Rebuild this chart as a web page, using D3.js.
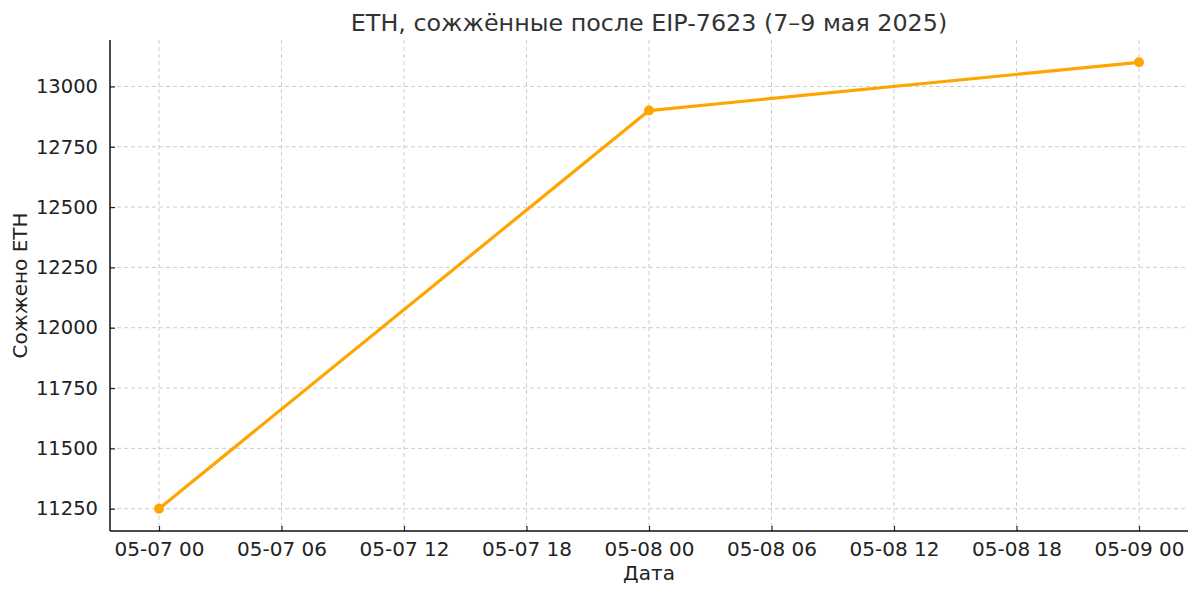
<!DOCTYPE html>
<html><head><meta charset="utf-8">
<script src="https://cdn.jsdelivr.net/npm/d3@7"></script>
<style>body{margin:0;background:#fff}svg{display:block}text{font-family:"DejaVu Sans",sans-serif}</style>
</head><body><svg id="c" width="1200" height="596"></svg>
<script>
const dates = ["2025-05-07T00:00", "2025-05-08T00:00", "2025-05-09T00:00"];
const burned = [11250, 12900, 13100];
const yTicks = [11250, 11500, 11750, 12000, 12250, 12500, 12750, 13000];
const xTickHours = [0, 6, 12, 18, 24, 30, 36, 42, 48];

const parse = d3.timeParse("%Y-%m-%dT%H:%M");
const data = dates.map((d, i) => ({t: parse(d), v: burned[i]}));
const svg = d3.select("#c");
const L = 110, R = 1188, T = 40, B = 531;
const t0 = data[0].t, t1 = data[data.length-1].t;
const span = t1 - t0;
const x = d3.scaleTime().domain([new Date(+t0 - span*0.05), new Date(+t1 + span*0.05)]).range([L, R]);
const vr = 13100 - 11250;
const y = d3.scaleLinear().domain([11250 - vr*0.05, 13100 + vr*0.05]).range([B, T]);
const xTicks = xTickHours.map(h => d3.timeHour.offset(t0, h));
const fmt = d3.timeFormat("%m-%d %H");

// grid
const g = svg.append("g");
g.selectAll(".gx").data(xTicks).join("line")
  .attr("x1", d => x(d)).attr("x2", d => x(d)).attr("y1", T).attr("y2", B)
  .attr("stroke", "#cccccc").attr("stroke-width", 1).attr("stroke-dasharray", "4,3");
g.selectAll(".gy").data(yTicks).join("line")
  .attr("x1", L).attr("x2", R).attr("y1", d => y(d)).attr("y2", d => y(d))
  .attr("stroke", "#cccccc").attr("stroke-width", 1).attr("stroke-dasharray", "4,3");

// axes
const xa = svg.append("g").attr("transform", `translate(0,${B})`)
  .call(d3.axisBottom(x).tickValues(xTicks).tickFormat(fmt).tickSizeInner(-5).tickSizeOuter(0).tickPadding(11));
const ya = svg.append("g").attr("transform", `translate(${L},0)`)
  .call(d3.axisLeft(y).tickValues(yTicks).tickFormat(d3.format("d")).tickSizeInner(-5).tickSizeOuter(0).tickPadding(12));
[xa, ya].forEach(a => {
  a.select(".domain").remove();
  a.selectAll(".tick line").attr("stroke", "#222").attr("stroke-width", 1.2);
  a.selectAll(".tick text").attr("fill", "#222").style("font-size", "19.5px");
});
xa.selectAll(".tick text").style("font-size", "20px");
svg.append("line").attr("x1", L).attr("x2", L).attr("y1", T).attr("y2", B).attr("stroke", "#111").attr("stroke-width", 1.5);
svg.append("line").attr("x1", L).attr("x2", R).attr("y1", B).attr("y2", B).attr("stroke", "#111").attr("stroke-width", 1.5);

// line
svg.append("path").datum(data)
  .attr("d", d3.line().x(d => x(d.t)).y(d => y(d.v)))
  .attr("fill", "none").attr("stroke", "#FFA500").attr("stroke-width", 3.2).attr("stroke-linejoin", "round");
svg.selectAll(".pt").data(data).join("circle")
  .attr("cx", d => x(d.t)).attr("cy", d => y(d.v)).attr("r", 5).attr("fill", "#FFA500");

// labels
svg.append("text").attr("x", (L+R)/2).attr("y", 31).attr("text-anchor", "middle")
  .style("font-size", "23.8px").attr("fill", "#333").text("ETH, сожжённые после EIP-7623 (7–9 мая 2025)");
svg.append("text").attr("x", (L+R)/2).attr("y", 580).attr("text-anchor", "middle")
  .style("font-size", "20px").attr("fill", "#222").text("Дата");
svg.append("text").attr("transform", `translate(27,${(T+B)/2}) rotate(-90)`).attr("text-anchor", "middle")
  .style("font-size", "20px").attr("fill", "#222").text("Сожжено ETH");
</script></body></html>
